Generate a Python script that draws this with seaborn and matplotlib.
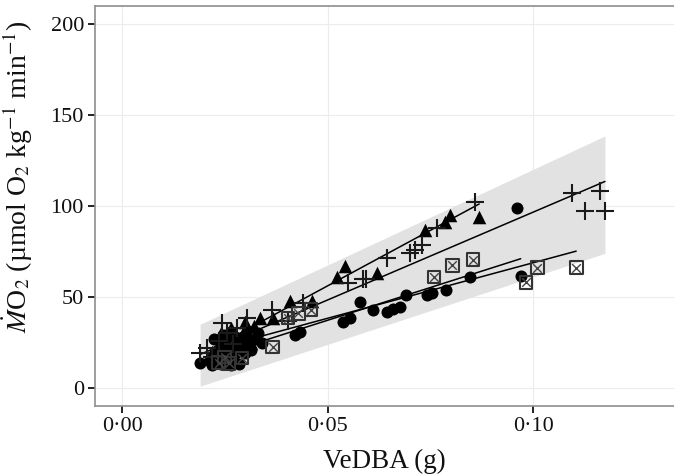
import numpy as np
import pandas as pd
import matplotlib
matplotlib.use("Agg")
import matplotlib.pyplot as plt
import seaborn as sns

# ---------------- data ----------------
circle_x = [0.019, 0.0215, 0.022, 0.023, 0.0235, 0.024, 0.0245, 0.025, 0.0255, 0.026, 0.0265,
            0.027, 0.0275, 0.028, 0.0285, 0.0295, 0.030, 0.031, 0.0315, 0.0325, 0.033, 0.034,
            0.0225, 0.0245, 0.0265, 0.0285,
            0.0421, 0.0433, 0.0538, 0.0555, 0.0579, 0.061, 0.0645, 0.066, 0.0676, 0.069,
            0.0742, 0.0754, 0.0788, 0.0846, 0.0961, 0.097]
circle_y = [13.5, 15, 12.5, 17, 21, 13, 19, 24, 14, 18, 22,
            16, 28, 20, 26, 22, 19, 24, 21, 27, 30, 25,
            27, 29, 12.5, 13,
            29, 31, 36, 38.5, 47.3, 43, 42, 43.4, 44.5, 51,
            51, 52, 54, 61, 99, 61.5]

triangle_x = [0.022, 0.0225, 0.0235, 0.024, 0.0245, 0.025, 0.026, 0.0265, 0.0275, 0.028,
              0.029, 0.0295, 0.0305, 0.031, 0.032, 0.0324, 0.0336, 0.0367,
              0.0255, 0.030, 0.0315,
              0.0409, 0.0462, 0.0523, 0.0543, 0.062, 0.0737, 0.0786, 0.0798, 0.0869]
triangle_y = [20, 16, 24, 30, 18, 28, 22, 33, 30, 23,
              26, 30, 32, 28, 34, 28, 38.5, 38.5,
              31, 36, 25,
              48, 48, 61, 67, 63, 87, 91, 95, 94]

plus_x = [0.019, 0.0207, 0.022, 0.0235, 0.0243, 0.0255, 0.027, 0.028, 0.0304, 0.0365,
          0.0404, 0.044, 0.055, 0.0587, 0.0594, 0.0645, 0.070, 0.0713, 0.073, 0.0766,
          0.0859, 0.1095, 0.1163, 0.1127, 0.1175]
plus_y = [19, 22, 17, 26, 35.7, 30, 24, 33, 38.5, 43,
          37, 46.7, 57.7, 60, 60, 71.4, 74, 76, 78.6, 88,
          102, 107, 108, 97, 97]

box_x = [0.0235, 0.025, 0.026, 0.0292, 0.0367, 0.0404, 0.0429, 0.046,
         0.0759, 0.0804, 0.0854, 0.0983, 0.101, 0.1105]
box_y = [14, 17, 13.5, 16.5, 22.5, 38.5, 41, 43,
         61, 67.5, 70.5, 58, 66, 66]

# per-group fitted lines (intercept, slope)
groups = ["circle", "triangle", "plus", "box"]
fit_intercept = [1.2, -4.9, 0.1, 7.8]
fit_slope = [720, 1220, 965, 610]

# shaded prediction band (x ends, lower and upper edge values)
band_x = [0.019, 0.1175]
band_lo = [1.0, 74.0]
band_hi = [35.0, 138.5]

x_ticks = [0.00, 0.05, 0.10]
x_tick_labels = ["0\u00b700", "0\u00b705", "0\u00b710"]
y_ticks = [0, 50, 100, 150, 200]

# ---------------- plotting ----------------
sns.set_theme(style="white")
plt.rcParams["font.family"] = ["Liberation Serif", "DejaVu Serif"]
plt.rcParams["mathtext.fontset"] = "stix"

fig = plt.figure(figsize=(6.74, 4.76), dpi=100)
ax = fig.add_axes([95 / 674, 0.1466, 1 - 95 / 674, 0.8412])

ax.fill_between(band_x, band_lo, band_hi, color="#e2e2e2", linewidth=0, zorder=1)

pts = {
    "circle": (circle_x, circle_y),
    "triangle": (triangle_x, triangle_y),
    "plus": (plus_x, plus_y),
    "box": (box_x, box_y),
}

for g, b0, b1 in zip(groups, fit_intercept, fit_slope):
    gx = np.array(pts[g][0])
    xs = np.array([gx.min(), gx.max()])
    line_df = pd.DataFrame({"x": xs, "y": b0 + b1 * xs})
    sns.lineplot(data=line_df, x="x", y="y", ax=ax, color="black", linewidth=1.1, zorder=3)

df_c = pd.DataFrame({"x": circle_x, "y": circle_y})
df_t = pd.DataFrame({"x": triangle_x, "y": triangle_y})
df_p = pd.DataFrame({"x": plus_x, "y": plus_y})
df_b = pd.DataFrame({"x": box_x, "y": box_y})

sns.scatterplot(data=df_c, x="x", y="y", ax=ax, marker="o", s=75, color="black",
                edgecolor="black", linewidth=0, zorder=4)
sns.scatterplot(data=df_t, x="x", y="y", ax=ax, marker="^", s=95, color="black",
                edgecolor="black", linewidth=0, zorder=4)
sns.scatterplot(data=df_p, x="x", y="y", ax=ax, marker="+", s=150, color="#1a1a1a",
                linewidth=1.5, zorder=4)
sns.scatterplot(data=df_b, x="x", y="y", ax=ax, marker="s", s=85, facecolor="none",
                edgecolor="#333333", linewidth=1.5, zorder=4)
sns.scatterplot(data=df_b, x="x", y="y", ax=ax, marker="x", s=38, color="#444444",
                linewidth=1.0, zorder=4)

ax.set_xlim(-0.00657, 0.1343)
ax.set_ylim(-10, 210)
ax.set_xticks(x_ticks)
ax.set_xticklabels(x_tick_labels)
ax.set_yticks(y_ticks)
ax.grid(True, color="#ececec", linewidth=0.8)
ax.set_axisbelow(True)

for side in ["left", "bottom", "top"]:
    ax.spines[side].set_visible(True)
    ax.spines[side].set_color("#8e8e8e")
    ax.spines[side].set_linewidth(1.2)
ax.spines["right"].set_visible(False)

ax.tick_params(axis="both", which="major", direction="out", length=5, width=1.4,
               color="#222222", labelsize=16, labelcolor="#111111", pad=3,
               bottom=True, left=True)

ax.set_xlabel("VeDBA (g)", fontsize=19.5, color="#111111", labelpad=9)
ax.set_ylabel("$\\dot{M}$O$_2$ (\u00b5mol O$_2$ kg$^{-1}$ min$^{-1}$)",
              fontsize=20, color="#111111")
ax.yaxis.set_label_coords(-(95 - 35) / 579, (406 - 176) / 400.4)

fig.savefig("out.png", dpi=100)
